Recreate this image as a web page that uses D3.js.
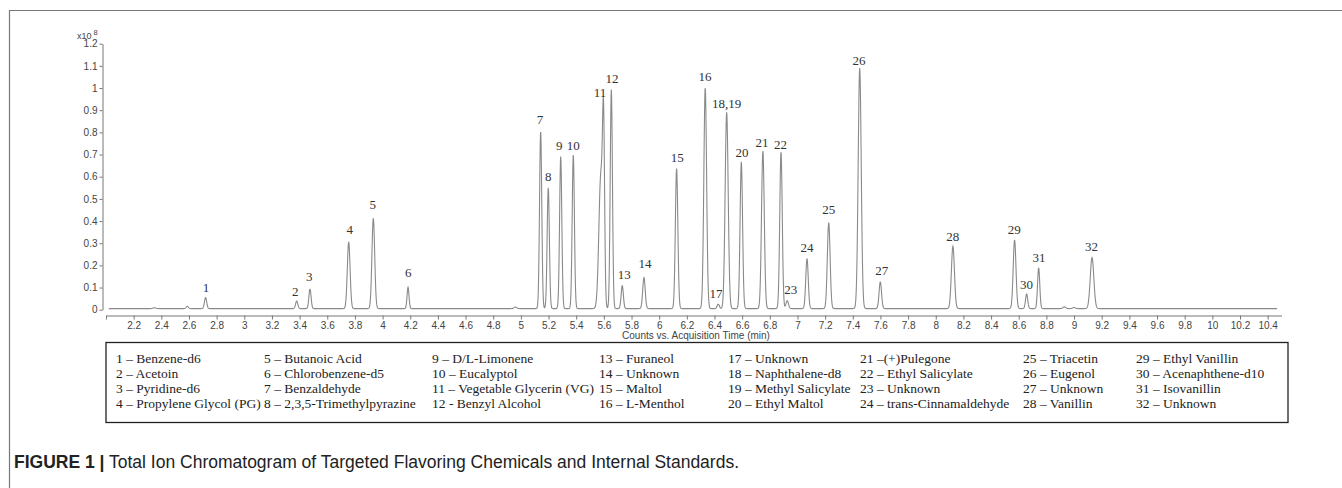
<!DOCTYPE html>
<html>
<head>
<meta charset="utf-8">
<script src="https://cdn.jsdelivr.net/npm/d3@7"></script>
<style>
  html, body { margin: 0; padding: 0; background: #fff; }
  svg { display: block; }
</style>
</head>
<body>
<svg id="chart" width="1342" height="488"></svg>
<script>
// ---------------- DATA ----------------
// Peak table (time in min, height in x10^8 counts, width = sigma in min)
const peakTimes   = [2.35, 2.588, 2.72, 3.379, 3.475, 3.755, 3.933, 4.184, 4.96, 5.143, 5.198, 5.288, 5.379, 5.578, 5.598, 5.654, 5.733, 5.890, 6.126, 6.333, 6.427, 6.488, 6.594, 6.750, 6.881, 6.926, 7.069, 7.226, 7.450, 7.599, 8.124, 8.570, 8.657, 8.744, 8.930, 9.000, 9.130];
const peakHeights = [0.004, 0.010, 0.050, 0.034, 0.088, 0.300, 0.407, 0.096, 0.007, 0.800, 0.545, 0.686, 0.695, 0.600, 0.720, 0.988, 0.104, 0.140, 0.632, 0.997, 0.020, 0.886, 0.662, 0.711, 0.707, 0.036, 0.225, 0.388, 1.085, 0.120, 0.281, 0.310, 0.066, 0.184, 0.008, 0.005, 0.230];
const peakWidths  = [0.010, 0.008, 0.008, 0.008, 0.008, 0.010, 0.010, 0.007, 0.010, 0.008, 0.008, 0.008, 0.008, 0.014, 0.0075, 0.008, 0.008, 0.009, 0.009, 0.010, 0.008, 0.011, 0.009, 0.010, 0.009, 0.009, 0.009, 0.010, 0.011, 0.009, 0.011, 0.010, 0.008, 0.008, 0.010, 0.010, 0.013];
const baselineLevel = 0.005;

// Peak labels: text, time of label centre, level of label centre
const labelTexts  = ["1","2","3","4","5","6","7","8","9","10","11","12","13","14","15","16","17","18,19","20","21","22","23","24","25","26","27","28","29","30","31","32"];
const labelTimes  = [2.723, 3.369, 3.470, 3.762, 3.928, 4.186, 5.138, 5.198, 5.278, 5.379, 5.572, 5.659, 5.748, 5.897, 6.131, 6.331, 6.411, 6.488, 6.599, 6.743, 6.878, 6.951, 7.069, 7.226, 7.445, 7.609, 8.122, 8.568, 8.657, 8.746, 9.127];
const labelLevels = [0.099, 0.081, 0.152, 0.364, 0.474, 0.170, 0.859, 0.600, 0.743, 0.742, 0.979, 1.041, 0.157, 0.209, 0.686, 1.054, 0.074, 0.931, 0.711, 0.756, 0.747, 0.089, 0.281, 0.450, 1.126, 0.176, 0.332, 0.363, 0.115, 0.235, 0.287];

// Axis ticks
const xTickValues = d3.range(0, 43).map(i => +(2 + i * 0.2).toFixed(1));
const yTickValues = d3.range(0, 13).map(i => +(i * 0.1).toFixed(1));

// Legend entries (4 per column)
const legendEntries = [
  "1 – Benzene-d6", "2 – Acetoin", "3 – Pyridine-d6", "4 – Propylene Glycol (PG)",
  "5 – Butanoic Acid", "6 – Chlorobenzene-d5", "7 – Benzaldehyde", "8 – 2,3,5-Trimethylpyrazine",
  "9 – D/L-Limonene", "10 – Eucalyptol", "11 – Vegetable Glycerin (VG)", "12 - Benzyl Alcohol",
  "13 – Furaneol", "14 – Unknown", "15 – Maltol", "16 – L-Menthol",
  "17 – Unknown", "18 – Naphthalene-d8", "19 – Methyl Salicylate", "20 – Ethyl Maltol",
  "21 –(+)Pulegone", "22 – Ethyl Salicylate", "23 – Unknown", "24 – trans-Cinnamaldehyde",
  "25 – Triacetin", "26 – Eugenol", "27 – Unknown", "28 – Vanillin",
  "29 – Ethyl Vanillin", "30 – Acenaphthene-d10", "31 – Isovanillin", "32 – Unknown"
];

const xTitle = "Counts vs. Acquisition Time (min)";
const captionBold = "FIGURE 1 |";
const captionText = " Total Ion Chromatogram of Targeted Flavoring Chemicals and Internal Standards.";

// ---------------- LAYOUT ----------------
const svg = d3.select("#chart");
const x = d3.scaleLinear().domain([2.0, 10.5]).range([106, 1281.5]);
const y = d3.scaleLinear().domain([0, 1.2]).range([309.7, 43.7]);
const sans = "'Liberation Sans', Arial, sans-serif";
const serif = "'Liberation Serif', 'Times New Roman', serif";

// outer frame (top + left)
svg.append("line").attr("x1", 9).attr("x2", 1342).attr("y1", 10.5).attr("y2", 10.5)
  .attr("stroke", "#777").attr("stroke-width", 1.2);
svg.append("line").attr("x1", 9.5).attr("x2", 9.5).attr("y1", 10).attr("y2", 488)
  .attr("stroke", "#777").attr("stroke-width", 1.2);

// y axis
const yAxis = svg.append("g").attr("transform", "translate(102.5,0)")
  .call(d3.axisLeft(y).tickValues(yTickValues).tickSize(3).tickSizeOuter(0).tickPadding(2)
    .tickFormat(d3.format("~g")));
// x axis
const xAxis = svg.append("g").attr("transform", "translate(0,315.5)")
  .call(d3.axisBottom(x).tickValues(xTickValues).tickSize(4).tickSizeOuter(0).tickPadding(2)
    .tickFormat(d => d === 2 ? "" : d3.format("~g")(d)));
[yAxis, xAxis].forEach(g => {
  g.select(".domain").attr("stroke", "#777");
  g.selectAll(".tick line").attr("stroke", "#777");
  g.selectAll(".tick text").attr("fill", "#444").style("font-family", sans).style("font-size", "10px");
});

// multiplier label
const mult = svg.append("text").attr("x", 77).attr("y", 39).attr("fill", "#444")
  .style("font-family", sans).style("font-size", "9px");
mult.append("tspan").text("x10");
mult.append("tspan").attr("dx", 2).attr("dy", -4).style("font-size", "7.5px").text("8");

// x title
svg.append("text").attr("x", 696).attr("y", 339).attr("text-anchor", "middle")
  .attr("fill", "#444").style("font-family", sans).style("font-size", "10px").text(xTitle);

// chromatogram trace built from the peak table
const grid = d3.range(2.02, 10.47, 0.002);
const trace = grid.map(t => {
  let v = baselineLevel;
  for (let i = 0; i < peakTimes.length; i++) {
    const d = (t - peakTimes[i]) / peakWidths[i];
    if (Math.abs(d) < 8) v += peakHeights[i] * Math.exp(-0.5 * d * d);
  }
  return [t, v];
});
svg.append("path").datum(trace)
  .attr("d", d3.line().x(d => x(d[0])).y(d => y(d[1])))
  .attr("fill", "none").attr("stroke", "#8a8a8a").attr("stroke-width", 1.1);

// peak labels
svg.append("g").selectAll("text").data(labelTexts).join("text")
  .attr("x", (d, i) => x(labelTimes[i]))
  .attr("y", (d, i) => y(labelLevels[i]) + 4.5)
  .attr("text-anchor", "middle").attr("fill", "#333")
  .style("font-family", serif).style("font-size", "13px").text(d => d);

// legend box
svg.append("rect").attr("x", 106).attr("y", 342.5).attr("width", 1182).attr("height", 80)
  .attr("fill", "none").attr("stroke", "#222").attr("stroke-width", 1.3);
const colX = [116, 264, 432, 599, 728, 860, 1023, 1136];
svg.append("g").selectAll("text").data(legendEntries).join("text")
  .attr("x", (d, i) => colX[Math.floor(i / 4)])
  .attr("y", (d, i) => 362.5 + (i % 4) * 15)
  .attr("fill", "#222").style("font-family", serif).style("font-size", "13.5px").text(d => d);

// caption
const cap = svg.append("text").attr("x", 14).attr("y", 468).attr("fill", "#222")
  .style("font-family", sans).style("font-size", "17.5px");
cap.append("tspan").style("font-weight", "bold").text(captionBold);
cap.append("tspan").text(captionText);
</script>
</body>
</html>
